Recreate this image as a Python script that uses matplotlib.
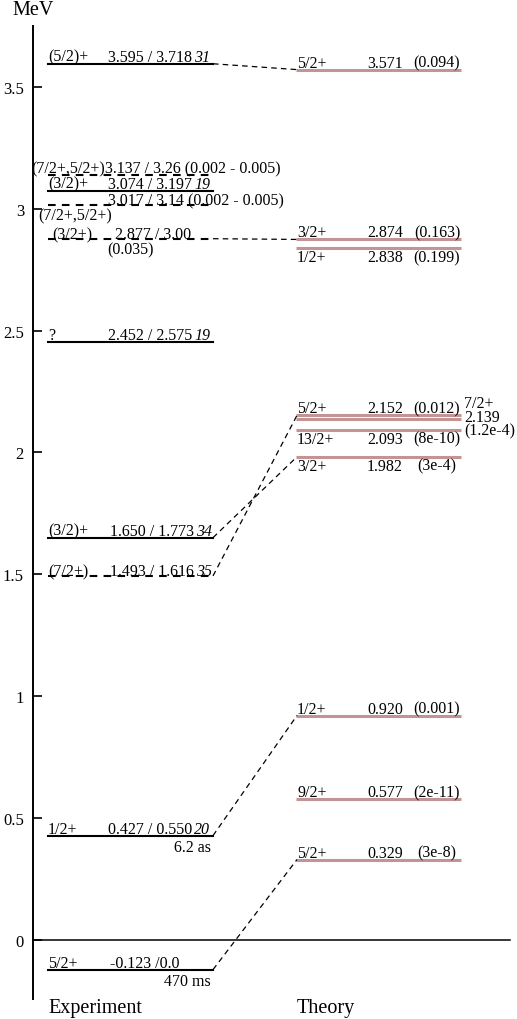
import matplotlib
matplotlib.use('Agg')
import matplotlib.pyplot as plt
from matplotlib.ticker import FormatStrFormatter

plt.rcParams['font.family'] = ['Liberation Serif', 'DejaVu Serif']
plt.rcParams['lines.scale_dashes'] = False

# Эксперимент
exp_energy = [-0.123, 0.427, 1.493, 1.650, 2.452, 2.877, 3.017, 3.074, 3.137, 3.595]
exp_spin = ['5/2+', '1/2+', '(7/2+)', '(3/2)+', '?', '(3/2+)', '', '(3/2)+',
            '(7/2+,5/2+)', '(5/2)+']
exp_text = ['-0.123 /0.0', '0.427 / 0.550', '1.493 / 1.616', '1.650 / 1.773',
            '2.452 / 2.575', '2.877 / 3.00', '3.017 / 3.14 (0.002 - 0.005)',
            '3.074 / 3.197', '3.137 / 3.26 (0.002 - 0.005)', '3.595 / 3.718']
exp_unc = ['', '20', '35', '34', '19', '', '', '19', '', '31']
exp_dashed = [False, False, True, False, False, True, True, False, True, False]
exp_note = ['470 ms', '6.2 as', '', '', '', '(0.035)', '', '', '', '']

# Теория
th_energy = [0.329, 0.577, 0.920, 1.982, 2.093, 2.139, 2.152, 2.838, 2.874, 3.571]
th_spin = ['5/2+', '9/2+', '1/2+', '3/2+', '13/2+', '7/2+', '5/2+', '1/2+', '3/2+', '5/2+']
th_energy_text = ['0.329', '0.577', '0.920', '1.982', '2.093', '2.139', '2.152',
                  '2.838', '2.874', '3.571']
th_width = ['(3e-8)', '(2e-11)', '(0.001)', '(3e-4)', '(8e-10)', '(1.2e-4)',
            '(0.012)', '(0.199)', '(0.163)', '(0.094)']
th_place = ['above', 'above', 'above', 'below', 'below', 'right', 'above',
            'below', 'above', 'above']

# Соответствия эксперимент -> теория
links = [(-0.123, 0.329), (0.427, 0.920), (1.493, 2.152), (1.650, 1.982),
         (2.877, 2.874), (3.595, 3.571)]

W, H = 517, 1020
fig = plt.figure(figsize=(W / 100, H / 100), dpi=100)
ax = fig.add_axes([33 / W, 20 / H, (W - 33) / W, 973 / H])
ax.set_xlim(33, W)
ax.set_ylim(-0.2435, 3.75)
px = 1 / 243.5  # MeV на пиксель

for s in ['top', 'right', 'bottom']:
    ax.spines[s].set_visible(False)
ax.spines['left'].set_linewidth(1.4)
ax.set_xticks([])
ax.set_yticks([0, 0.5, 1, 1.5, 2, 2.5, 3, 3.5])
ax.yaxis.set_major_formatter(FormatStrFormatter('%g'))
ax.tick_params(axis='y', direction='in', length=6.5, width=1.2,
               labelsize=12, pad=6.5)

ax.plot([33, 510], [0, 0], color='black', lw=1.1)

fs = 11.5
x0e, x1e = 48, 213
x0t, x1t = 296, 461
pink = '#c49494'


# Текст сразу справа от другого текста (та же базовая линия).
def _after(artist, s, gap=0.0, **kw):
    return ax.annotate(s, xy=(1, 0), xycoords=artist, xytext=(gap, 0),
                       textcoords='offset points', fontsize=fs, va='bottom',
                       **kw)


for i, e in enumerate(exp_energy):
    ls = (0, (5.5, 4.5)) if exp_dashed[i] else '-'
    ax.plot([x0e, x1e], [e, e], color='black', lw=1.5, linestyle=ls)
    # у пунктирных уровней подпись стоит прямо на линии
    yb = e + (0.5 if exp_dashed[i] else 3) * px
    xs = 48
    xt = 108
    if e == 2.877:
        xs, xt = 52, 115
    elif e in (-0.123, 1.650, 1.493):
        xt = 110
    if e == 3.137:
        # длинная подпись: энергия сразу за спином
        yb = e + 3 * px
        sp = ax.text(31, yb, exp_spin[i], fontsize=fs, va='baseline', ha='left')
        _after(sp, exp_text[i])
        continue
    if exp_spin[i]:
        ax.text(xs, yb, exp_spin[i], fontsize=fs, va='baseline', ha='left')
    t = ax.text(xt, yb, exp_text[i], fontsize=fs, va='baseline', ha='left')
    if exp_unc[i]:
        _after(t, exp_unc[i], gap=1.5, style='italic')
    if exp_note[i]:
        if exp_note[i].startswith('('):
            ax.text(131, e - 15 * px, exp_note[i], fontsize=fs, va='baseline',
                    ha='center')
        else:
            ax.text(211, e - 15 * px, exp_note[i], fontsize=fs, va='baseline',
                    ha='right')

# подпись спина под уровнем 3.017
ax.text(38, 3.017 - 15 * px, '(7/2+,5/2+)', fontsize=fs, va='baseline', ha='left')

for i, e in enumerate(th_energy):
    ax.plot([x0t, x1t], [e, e], color=pink, lw=2.2, solid_capstyle='butt')
    if th_place[i] == 'right':
        ax.text(464, e + 12 * px, th_spin[i], fontsize=fs, va='baseline')
        ax.text(464, e - 2 * px, th_energy_text[i], fontsize=fs, va='baseline')
        ax.text(464, e - 16 * px, th_width[i], fontsize=fs, va='baseline')
        continue
    yb = e + 3 * px if th_place[i] == 'above' else e - 13 * px
    ax.text(297, yb, th_spin[i], fontsize=fs, va='baseline', ha='left')
    ax.text(367, yb, th_energy_text[i], fontsize=fs, va='baseline', ha='left')
    ax.text(437, yb, th_width[i], fontsize=fs, va='baseline', ha='center')

for ee, et in links:
    ax.plot([x1e, 297], [ee, et], color='black', lw=0.9,
            linestyle=(0, (4, 3)))

fig.text(12 / W, 1 - 15 / H, 'MeV', fontsize=14.5, va='baseline', ha='left')
fig.text(48 / W, 1 - 1013 / H, 'Experiment', fontsize=14.5, va='baseline', ha='left')
fig.text(297 / W, 1 - 1013 / H, 'Theory', fontsize=14.5, va='baseline', ha='left')

fig.savefig('out.png', dpi=100)
